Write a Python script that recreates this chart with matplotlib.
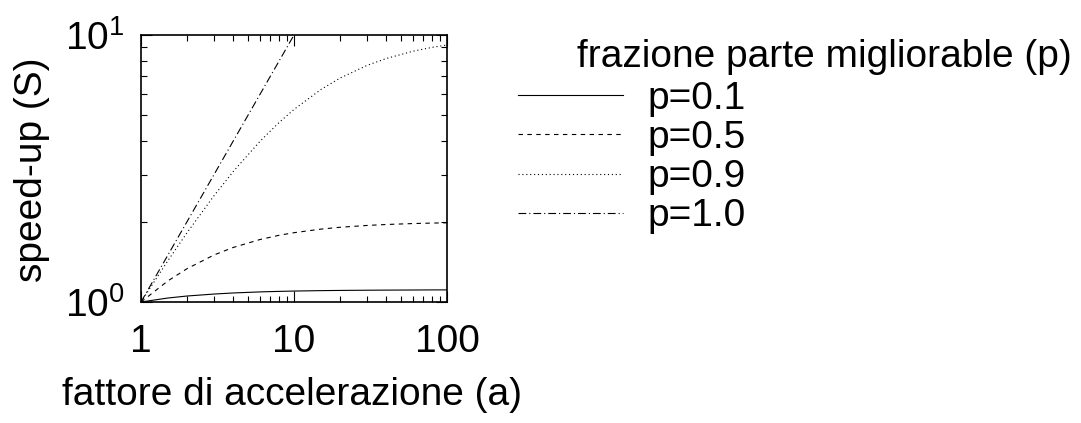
import math

import matplotlib
matplotlib.use("Agg")
import matplotlib.pyplot as plt
from matplotlib.ticker import FixedLocator, NullFormatter, FuncFormatter

# speed-up, per accelerating factor a
a_vals = [1, 1.5, 2, 3, 4, 6, 8, 10, 15, 20, 30, 40, 60, 80, 100]
s_p01 = [1.0, 1.035, 1.053, 1.071, 1.081, 1.091, 1.096, 1.099, 1.103, 1.105,
         1.107, 1.108, 1.109, 1.110, 1.110]
s_p05 = [1.0, 1.2, 1.333, 1.5, 1.6, 1.714, 1.778, 1.818, 1.875, 1.905,
         1.935, 1.951, 1.967, 1.975, 1.980]
s_p09 = [1.0, 1.429, 1.818, 2.5, 3.077, 4.0, 4.706, 5.263, 6.25, 6.897,
         7.692, 8.163, 8.696, 8.989, 9.174]
a_p10 = [1, 2, 3, 5, 10]
s_p10 = [1, 2, 3, 5, 10]

labels = ["p=0.1", "p=0.5", "p=0.9", "p=1.0"]

plt.rcParams["font.family"] = ["Liberation Sans", "DejaVu Sans"]
plt.rcParams["mathtext.fontset"] = "custom"
plt.rcParams["mathtext.rm"] = "Liberation Sans"
plt.rcParams["mathtext.it"] = "Liberation Sans"

FS = 28

fig = plt.figure(figsize=(10.81, 4.23), dpi=100)
ax = fig.add_axes([141 / 1081, 1 - 302 / 423, 306 / 1081, 267 / 423])

lw = 0.8
ax.plot(a_vals, s_p01, color="black", lw=lw, linestyle="-", label=labels[0])
ax.plot(a_vals, s_p05, color="black", lw=lw, linestyle=(0, (4, 4)), label=labels[1])
ax.plot(a_vals, s_p09, color="black", lw=lw, linestyle=(0, (1, 2.5)), label=labels[2])
ax.plot(a_p10, s_p10, color="black", lw=lw, linestyle=(0, (7, 2.7, 1, 2.7)), label=labels[3])

ax.set_xscale("log")
ax.set_yscale("log")
ax.set_xlim(1, 100)
ax.set_ylim(1, 10)

ax.xaxis.set_major_locator(FixedLocator([1, 10, 100]))
ax.xaxis.set_major_formatter(FuncFormatter(lambda v, p: f"{v:g}"))
ax.xaxis.set_minor_locator(FixedLocator([2, 3, 4, 5, 6, 7, 8, 9, 20, 30, 40, 50, 60, 70, 80, 90]))
ax.xaxis.set_minor_formatter(NullFormatter())
ax.yaxis.set_major_locator(FixedLocator([1, 10]))
ax.yaxis.set_major_formatter(FuncFormatter(lambda v, p: r"$10^{%d}$" % round(math.log10(v))))
ax.yaxis.set_minor_locator(FixedLocator([2, 3, 4, 5, 6, 7, 8, 9]))
ax.yaxis.set_minor_formatter(NullFormatter())

ax.tick_params(which="both", direction="in", top=True, right=True, width=0.8, color="black")
ax.tick_params(which="major", length=8)
ax.tick_params(which="minor", length=4.5)
ax.tick_params(axis="x", which="major", labelsize=FS, pad=16)
ax.tick_params(axis="y", which="major", labelsize=FS, pad=12)
for sp in ax.spines.values():
    sp.set_linewidth(1.2)

fig.text(32 / 1081, 1 - 170 / 423, "speed-up (S)", rotation=90, ha="center", va="center", fontsize=FS)
fig.text(62 / 1081, 1 - 405 / 423, "fattore di accelerazione (a)", ha="left", va="baseline", fontsize=FS)
fig.text(577 / 1081, 1 - 67 / 423, "frazione parte migliorable (p)", ha="left", va="baseline", fontsize=FS)

ax.legend(loc="upper left", bbox_to_anchor=(518 / 1081, 1 - 81 / 423), bbox_transform=fig.transFigure,
          frameon=False, fontsize=FS, handlelength=2.7, handletextpad=0.62,
          borderpad=0, borderaxespad=0, labelspacing=0.08)

fig.savefig("out.png", dpi=100)
